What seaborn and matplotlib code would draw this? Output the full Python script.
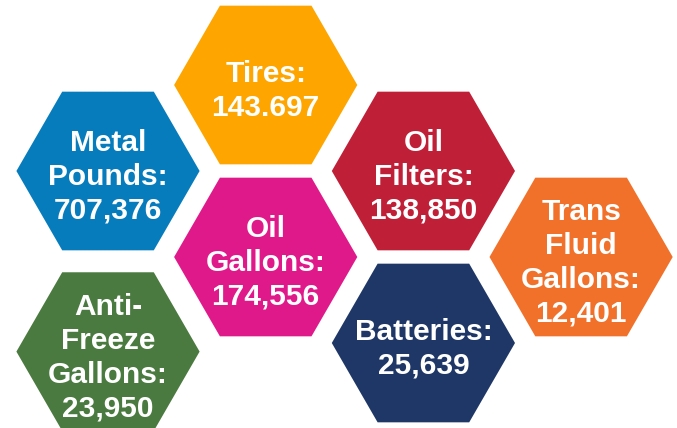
import matplotlib
matplotlib.use("Agg")
import matplotlib.pyplot as plt
import seaborn as sns
import pandas as pd

# Recycling totals shown as a honeycomb of hexagons
labels = ["Tires:\n143.697", "Metal\nPounds:\n707,376", "Oil\nFilters:\n138,850",
          "Trans\nFluid\nGallons:\n12,401", "Oil\nGallons:\n174,556",
          "Anti-\nFreeze\nGallons:\n23,950", "Batteries:\n25,639"]
# position in the honeycomb: column and half-row
cols = [1, 0, 2, 3, 1, 0, 2]
rows = [0, 1, 1, 2, 2, 3.1, 3]
colors = ["#FEA500", "#077CBD", "#C01F38", "#F1712A", "#E0198A", "#4A7A3F", "#1F3766"]

df = pd.DataFrame({"label": labels, "col": cols, "row": rows})

sns.set_theme(style="white")
plt.rcParams['font.family'] = ['Liberation Sans', 'DejaVu Sans']

fig = plt.figure(figsize=(6.77, 4.28), dpi=100)
ax = fig.add_axes([0, 0, 1, 1])

sns.scatterplot(data=df, x="col", y="row", hue="label", palette=colors,
                marker="H", s=17400, linewidth=0, legend=False, ax=ax)

for lab, c, r in zip(labels, cols, rows):
    ax.text(c, r + 0.07, lab, ha="center", va="center", color="white",
            fontsize=21.5, fontweight="bold", linespacing=1.27)

# column spacing ~158 px, half-row ~86 px
ax.set_xlim(-108 / 157.7, (677 - 108) / 157.7)
ax.set_ylim((428 - 85) / 86, -85 / 86)
ax.set_axis_off()

fig.savefig("out.png", dpi=100)
